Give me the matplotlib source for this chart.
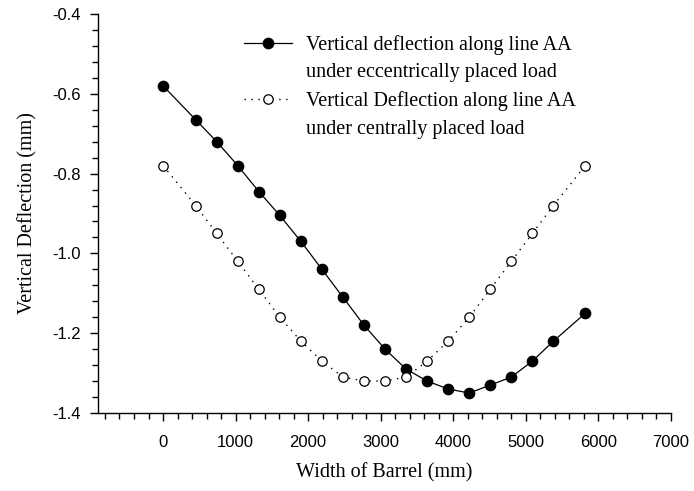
import matplotlib
matplotlib.use("Agg")
import matplotlib.pyplot as plt
from matplotlib.lines import Line2D
from matplotlib.ticker import MultipleLocator

# Width of barrel (mm) at each measuring point along line AA
width = [0, 450, 740, 1030, 1320, 1610, 1900, 2190, 2480, 2770,
         3060, 3350, 3640, 3930, 4220, 4510, 4800, 5090, 5380, 5820]

# vertical deflection (mm)
eccentric = [-0.58, -0.665, -0.72, -0.78, -0.845, -0.905, -0.97, -1.04, -1.11, -1.18,
             -1.24, -1.29, -1.32, -1.34, -1.35, -1.33, -1.31, -1.27, -1.22, -1.15]
central = [-0.78, -0.88, -0.95, -1.02, -1.09, -1.16, -1.22, -1.27, -1.31, -1.32,
           -1.32, -1.31, -1.27, -1.22, -1.16, -1.09, -1.02, -0.95, -0.88, -0.78]

label_ecc = ['Vertical deflection along line AA', 'under eccentrically placed load']
label_cen = ['Vertical Deflection along line AA', 'under centrally placed load']

serif = ['Liberation Serif', 'DejaVu Serif']
sans = ['Liberation Sans', 'DejaVu Sans']

fig = plt.figure(figsize=(6.94, 4.91), dpi=100)
ax = fig.add_axes([0.1408, 0.1589, 0.826, 0.8126])

ax.plot(width, eccentric, color='black', linewidth=0.9, marker='o', markersize=7.4,
        markerfacecolor='black', markeredgecolor='black')
ax.plot(width, central, color='black', linewidth=1.0, linestyle=(0, (1, 4)), marker='o',
        markersize=6.8, markerfacecolor='white', markeredgecolor='black', markeredgewidth=0.9)

ax.set_xlim(-900, 7000)
ax.set_ylim(-1.4, -0.4)
ax.xaxis.set_minor_locator(MultipleLocator(200))
ax.yaxis.set_minor_locator(MultipleLocator(0.04))
ax.set_xticks([0, 1000, 2000, 3000, 4000, 5000, 6000, 7000])
ax.set_xticklabels(['0', '1000', '2000', '3000', '4000', '5000', '6000', '7000'])
ax.set_yticks([-1.4, -1.2, -1.0, -0.8, -0.6, -0.4])
ax.set_yticklabels(['-1.4', '-1.2', '-1.0', '-0.8', '-0.6', '-0.4'])

for s in ['top', 'right']:
    ax.spines[s].set_visible(False)
for s in ['left', 'bottom']:
    ax.spines[s].set_linewidth(1.0)

ax.tick_params(which='major', direction='out', length=6, width=1.0, labelsize=12)
ax.tick_params(which='minor', direction='out', length=4, width=1.0)
for t in ax.get_xticklabels() + ax.get_yticklabels():
    t.set_family(sans)
ax.tick_params(axis='x', pad=10)
ax.tick_params(axis='y', pad=6)

ax.set_xlabel('Width of Barrel (mm)', family=serif, fontsize=14.5, labelpad=9)
ax.set_ylabel('Vertical Deflection (mm)', family=serif, fontsize=14.5, labelpad=11)

h_ecc = Line2D([], [], color='black', linewidth=0.9, marker='o', markersize=7.4,
               markerfacecolor='black')
h_cen = Line2D([], [], color='black', linewidth=1.0, linestyle=(0, (1, 4)), marker='o',
               markersize=6.8, markerfacecolor='white', markeredgewidth=0.9)
blank = Line2D([], [], linestyle='none')
leg = ax.legend([h_ecc, blank, h_cen, blank],
                [label_ecc[0], label_ecc[1], label_cen[0], label_cen[1]],
                loc='upper left', bbox_to_anchor=(0.255, 0.948), frameon=False,
                prop={'family': serif, 'size': 14.5}, handlelength=2.4,
                handletextpad=0.7, labelspacing=0.43, borderpad=0, borderaxespad=0)

fig.savefig('out.png', dpi=100)
